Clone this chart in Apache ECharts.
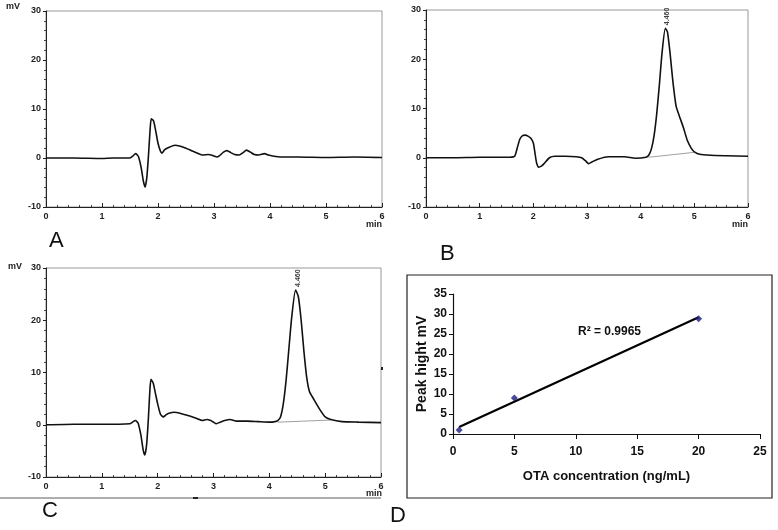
<!DOCTYPE html>
<html><head><meta charset="utf-8">
<script src="https://cdn.jsdelivr.net/npm/echarts@6/dist/echarts.min.js"></script>
<style>html,body{margin:0;padding:0;background:#fff}#c{width:778px;height:530px}</style>
</head><body><div id="c"></div>
<script>
// Chromatogram A (blank)
var aTime = [0,0.5,1.0,1.2,1.5,1.55,1.6,1.65,1.7,1.74,1.77,1.8,1.83,1.86,1.88,1.92,1.96,2.0,2.04,2.07,2.12,2.2,2.3,2.4,2.5,2.6,2.7,2.8,2.9,2.95,3.0,3.05,3.1,3.17,3.23,3.3,3.37,3.45,3.52,3.58,3.65,3.72,3.8,3.9,3.97,4.05,4.2,4.5,5.0,5.5,6.0];
var aSignal = [0,0,-0.1,0,0,0.4,0.9,0.3,-2.0,-4.8,-5.9,-4.0,0.5,6.0,8.0,7.6,5.5,3.0,1.5,1.0,1.7,2.2,2.6,2.4,2.0,1.5,1.0,0.6,0.7,0.6,0.4,0.2,0.5,1.2,1.5,1.1,0.7,0.6,1.1,1.6,1.2,0.7,0.6,0.9,0.6,0.4,0.2,0.2,0.1,0.2,0.1];
// Chromatogram B (OTA standard)
var bTime = [0,0.5,1.0,1.5,1.65,1.7,1.75,1.8,1.85,1.9,1.95,2.0,2.03,2.06,2.1,2.15,2.2,2.3,2.4,2.6,2.8,2.9,2.97,3.03,3.1,3.2,3.4,3.7,3.9,4.1,4.15,4.2,4.25,4.3,4.35,4.4,4.46,4.5,4.55,4.6,4.66,4.72,4.8,4.87,4.95,5.0,5.1,5.3,5.6,6.0];
var bSignal = [0,0,0.1,0.1,0.3,2.0,3.8,4.5,4.6,4.4,4.0,3.0,1.0,-1.0,-1.9,-1.7,-1.2,0,0.3,0.3,0.2,0,-0.6,-1.2,-0.8,-0.3,0.2,0.2,-0.1,0.1,0.5,1.8,4.5,9.0,15.0,21.5,26.3,25.5,21.0,15.5,10.5,8.5,6.0,3.5,1.8,1.2,0.7,0.5,0.4,0.3];
var bBaseTime = [4.15,5.0];
var bBaseSignal = [0.1,1.1];
// Chromatogram C (sample)
var cTime = [0,0.5,1.0,1.5,1.55,1.6,1.65,1.7,1.74,1.77,1.8,1.83,1.86,1.88,1.92,1.96,2.0,2.05,2.1,2.15,2.2,2.3,2.4,2.5,2.6,2.7,2.8,2.88,2.95,3.0,3.05,3.12,3.2,3.3,3.4,3.6,3.8,4.0,4.1,4.15,4.2,4.25,4.3,4.35,4.4,4.47,4.52,4.57,4.62,4.67,4.72,4.8,4.9,5.0,5.1,5.3,5.6,6.0];
var cSignal = [0,0.1,0.1,0.2,0.5,0.8,0.3,-2.0,-4.8,-5.8,-4.0,0.5,6.5,8.7,8.0,6.0,4.0,2.0,1.5,1.9,2.2,2.4,2.2,1.9,1.6,1.2,0.8,1.0,0.8,0.5,0.2,0.5,0.8,1.0,0.7,0.7,0.6,0.5,0.6,0.8,1.5,4.0,8.5,14.5,20.5,25.8,24.5,20.0,14.0,9.0,6.3,4.8,3.0,1.5,1.0,0.6,0.5,0.4];
var cBaseTime = [4.15,5.1];
var cBaseSignal = [0.5,0.9];
var peakLabel = '4.460';
// Calibration D
var concentration = [0.5,5,20];
var peakHeight = [1.0,9.0,28.8];
var trendConc = [0.5,20];
var trendHeight = [1.75,29.2];
var r2Text = 'R\u00b2 = 0.9965';

function pairs(xs, ys){ return xs.map(function(x,i){ return [x, ys[i]]; }); }

var labelFont = {fontSize:9, fontWeight:'bold', color:'#222', fontFamily:'Liberation Sans'};
function chromX(idx){
  return {gridIndex:idx, type:'value', min:0, max:6, interval:1,
    axisLine:{onZero:false, lineStyle:{color:'#222', width:1}},
    axisTick:{inside:true, length:4, lineStyle:{color:'#222'}},
    minorTick:{show:true, splitNumber:5, length:2, lineStyle:{color:'#444'}},
    axisLabel:Object.assign({margin:5}, labelFont),
    splitLine:{show:false}};
}
function chromY(idx){
  return {gridIndex:idx, type:'value', min:-10, max:30, interval:10,
    axisLine:{onZero:false, lineStyle:{color:'#222', width:1}},
    axisTick:{inside:false, length:3, lineStyle:{color:'#222'}},
    minorTick:{show:true, splitNumber:5, length:2, lineStyle:{color:'#444'}},
    axisLabel:Object.assign({margin:5}, labelFont),
    splitLine:{show:false}};
}
function trace(idx, data, withLabel){
  var s = {type:'line', xAxisIndex:idx, yAxisIndex:idx, data:data, smooth:0.2, showSymbol:false, symbol:'none',
    lineStyle:{color:'#111', width:1.6}, animation:false, z:3};
  if(withLabel){
    s.markPoint = {symbol:'circle', symbolSize:0.1, silent:true, animation:false,
      data:[{type:'max', label:{show:true, formatter:peakLabel, position:'top', rotate:90, align:'left', verticalAlign:'middle',
        distance:0, offset:[3,2], fontSize:7, fontWeight:'bold', color:'#444', fontFamily:'Liberation Sans'}}]};
  }
  return s;
}
function baseLine(idx, data){
  return {type:'line', xAxisIndex:idx, yAxisIndex:idx, data:data, showSymbol:false, symbol:'none',
    lineStyle:{color:'#888', width:0.8}, animation:false, z:2};
}

var bold12 = {fontSize:12, fontWeight:'bold', color:'#111', fontFamily:'Liberation Sans'};

var option = {
  animation:false,
  backgroundColor:'#fff',
  grid:[
    {left:46, top:11, width:336, height:196, show:true, borderColor:'#999', borderWidth:1},
    {left:426, top:10, width:322, height:197, show:true, borderColor:'#999', borderWidth:1},
    {left:46, top:268, width:335, height:209, show:true, borderColor:'#999', borderWidth:1},
    {left:453, top:294, width:307, height:140}
  ],
  xAxis:[chromX(0), chromX(1), chromX(2),
    {gridIndex:3, type:'value', min:0, max:25, interval:5,
      axisLine:{onZero:false, lineStyle:{color:'#111', width:1.2}},
      axisTick:{inside:false, length:5, lineStyle:{color:'#111'}},
      axisLabel:Object.assign({margin:12}, bold12),
      splitLine:{show:false},
      name:'OTA concentration (ng/mL)', nameLocation:'middle', nameGap:36,
      nameTextStyle:{fontSize:13, fontWeight:'bold', color:'#111', fontFamily:'Liberation Sans'}}
  ],
  yAxis:[chromY(0), chromY(1), chromY(2),
    {gridIndex:3, type:'value', min:0, max:35, interval:5,
      axisLine:{onZero:false, lineStyle:{color:'#111', width:1.2}},
      axisTick:{inside:false, length:4, lineStyle:{color:'#111'}},
      axisLabel:Object.assign({margin:6}, bold12),
      splitLine:{show:false},
      name:'Peak hight mV', nameLocation:'middle', nameGap:24,
      nameTextStyle:{fontSize:14, fontWeight:'bold', color:'#111', fontFamily:'Liberation Sans'}}
  ],
  series:[
    trace(0, pairs(aTime, aSignal), false),
    trace(1, pairs(bTime, bSignal), true),
    baseLine(1, pairs(bBaseTime, bBaseSignal)),
    trace(2, pairs(cTime, cSignal), true),
    baseLine(2, pairs(cBaseTime, cBaseSignal)),
    {type:'line', xAxisIndex:3, yAxisIndex:3, data:pairs(trendConc, trendHeight), showSymbol:false, symbol:'none',
      lineStyle:{color:'#000', width:2.2}, z:2},
    {type:'scatter', xAxisIndex:3, yAxisIndex:3, data:pairs(concentration, peakHeight), symbol:'diamond', symbolSize:7,
      itemStyle:{color:'#1c1c80'}, z:3}
  ],
  graphic:[
    {type:'text', left:6, top:2, style:{text:'mV', font:'bold 9px "Liberation Sans"', fill:'#222'}},
    {type:'text', left:8, top:262, style:{text:'mV', font:'bold 9px "Liberation Sans"', fill:'#222'}},
    {type:'text', left:366, top:220, style:{text:'min', font:'bold 9px "Liberation Sans"', fill:'#222'}},
    {type:'text', left:732, top:220, style:{text:'min', font:'bold 9px "Liberation Sans"', fill:'#222'}},
    {type:'text', left:366, top:489, style:{text:'min', font:'bold 9px "Liberation Sans"', fill:'#222'}},
    {type:'line', shape:{x1:0, y1:498, x2:381, y2:498}, style:{stroke:'#333', lineWidth:0.8}},
    {type:'rect', shape:{x:193, y:497, width:5, height:2}, style:{fill:'#222'}},
    {type:'rect', shape:{x:381, y:367, width:2, height:3}, style:{fill:'#222'}},
    {type:'text', left:49, top:230, style:{text:'A', font:'22px "Liberation Sans"', fill:'#111'}},
    {type:'text', left:440, top:243, style:{text:'B', font:'22px "Liberation Sans"', fill:'#111'}},
    {type:'text', left:42, top:500, style:{text:'C', font:'22px "Liberation Sans"', fill:'#111'}},
    {type:'text', left:390, top:505, style:{text:'D', font:'22px "Liberation Sans"', fill:'#111'}},
    {type:'rect', shape:{x:407, y:275, width:365, height:223}, style:{fill:'none', stroke:'#222', lineWidth:1.2}},
    {type:'text', left:578, top:326, style:{text:r2Text, font:'bold 12px "Liberation Sans"', fill:'#111'}}
  ]
};
var chart = echarts.init(document.getElementById('c'), null, {renderer:'canvas'});
chart.setOption(option);
</script>
</body></html>
